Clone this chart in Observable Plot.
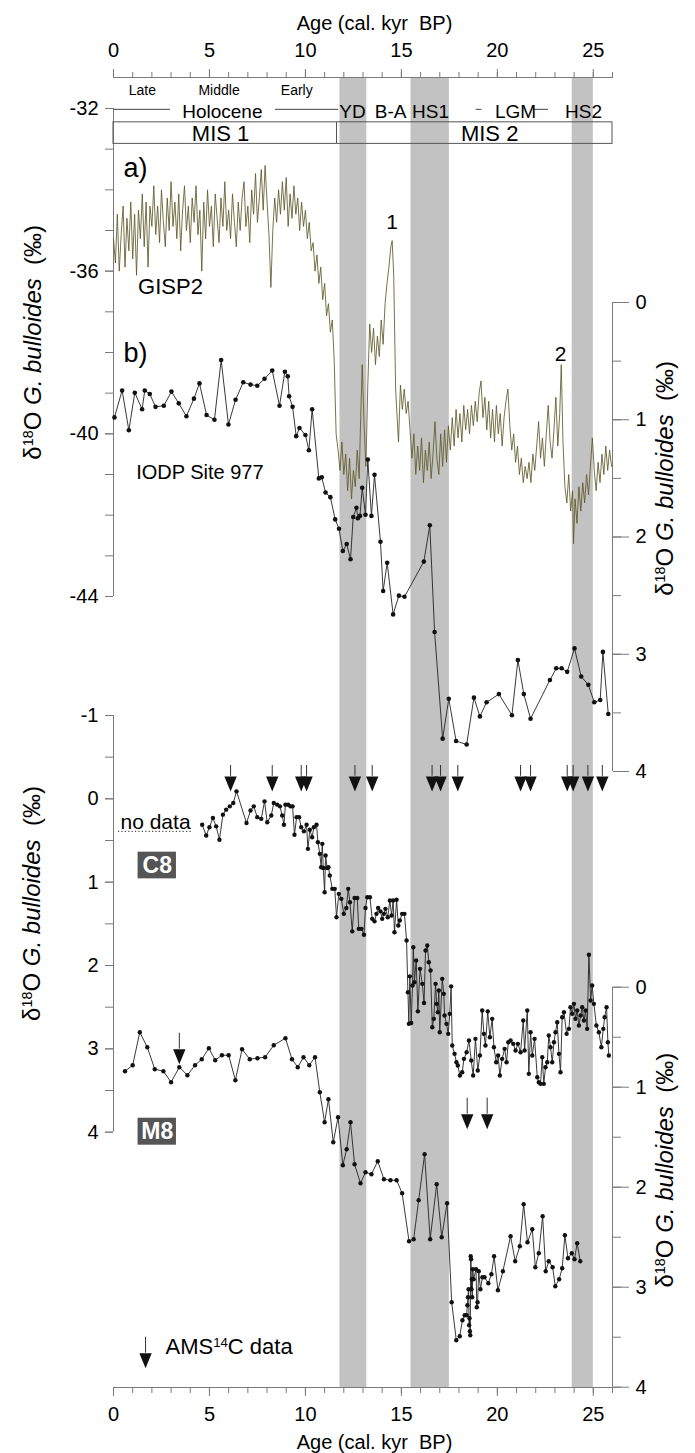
<!DOCTYPE html>
<html><head><meta charset="utf-8">
<script src="https://cdn.jsdelivr.net/npm/d3@7"></script>
<script src="https://cdn.jsdelivr.net/npm/@observablehq/plot@0.6"></script>
<style>
body{margin:0;background:#fff;}
#chart{position:relative;width:695px;height:1453px;}
#chart svg{position:absolute;left:0;top:0;background:transparent;}
</style></head><body><div id="chart"></div>
<script>
// ---------------- DATA ----------------
const xMajor = [0,5,10,15,20,25];
const xMinor = [0,1,2,3,4,5,6,7,8,9,10,11,12,13,14,15,16,17,18,19,20,21,22,23,24,25,26];
const bands = [{start:11.8,end:13.2},{start:15.5,end:17.5},{start:23.9,end:25.0}];
const gispTicks = [-32,-36,-40,-44];
const gispMinor = [-32,-33,-34,-35,-36,-37,-38,-39,-40,-41,-42,-43,-44];
const iodpTicks = [0,1,2,3,4];
const halfTicks04 = [0,0.5,1,1.5,2,2.5,3,3.5,4];
const c8Ticks = [-1,0,1,2,3,4];
const c8Minor = [-1,-0.5,0,0.5,1,1.5,2,2.5,3,3.5,4];
const eraLabels = [{label:"Late",age:1.5},{label:"Middle",age:5.5},{label:"Early",age:9.55}];
const stageLabels = [{label:"Holocene",age:5.67},{label:"YD",age:12.45},{label:"B-A",age:14.44},{label:"HS1",age:16.52},{label:"LGM",age:20.95},{label:"HS2",age:24.49}];
const stageLines = [{a:0,b:2.97},{a:8.44,b:11.73},{a:18.9,b:19.2},{a:21.9,b:22.67}];
const misLabels = [{label:"MIS 1",age:5.58},{label:"MIS 2",age:19.6}];
const misBoundary = [11.62];

const gisp2 = [[0,-35.2],[0.1,-35.8],[0.2,-34.6],[0.3,-36.0],[0.4,-35.1],[0.5,-34.4],[0.6,-35.9],[0.7,-34.7],[0.8,-35.5],[0.9,-34.3],[1.0,-35.7],[1.1,-34.6],[1.2,-36.1],[1.3,-34.5],[1.4,-35.2],[1.5,-34.1],[1.6,-35.4],[1.7,-34.3],[1.8,-35.9],[1.9,-34.4],[2.0,-34.9],[2.1,-33.9],[2.2,-35.1],[2.3,-34.4],[2.4,-35.3],[2.5,-34.0],[2.6,-34.8],[2.7,-35.4],[2.8,-34.2],[2.9,-35.0],[3.0,-33.8],[3.1,-34.9],[3.2,-34.3],[3.3,-35.2],[3.4,-34.1],[3.5,-35.5],[3.6,-34.5],[3.7,-33.9],[3.8,-35.0],[3.9,-34.4],[4.0,-35.3],[4.1,-34.2],[4.2,-34.8],[4.3,-33.9],[4.4,-35.1],[4.5,-34.5],[4.6,-36.0],[4.7,-34.3],[4.8,-35.2],[4.9,-34.0],[5.0,-34.9],[5.1,-34.4],[5.2,-35.4],[5.3,-34.1],[5.4,-34.7],[5.5,-35.3],[5.6,-34.2],[5.7,-34.9],[5.8,-33.8],[5.9,-35.0],[6.0,-34.5],[6.1,-35.2],[6.2,-34.1],[6.3,-34.8],[6.4,-35.4],[6.5,-34.3],[6.6,-35.0],[6.7,-34.2],[6.8,-33.8],[6.9,-34.9],[7.0,-34.4],[7.1,-35.3],[7.2,-34.0],[7.3,-34.6],[7.4,-33.6],[7.5,-34.8],[7.6,-34.2],[7.7,-33.5],[7.8,-34.5],[7.9,-33.4],[8.0,-34.3],[8.1,-35.1],[8.2,-36.4],[8.3,-35.0],[8.4,-34.2],[8.5,-34.8],[8.6,-34.0],[8.7,-34.6],[8.8,-33.8],[8.9,-34.5],[9.0,-33.7],[9.1,-34.9],[9.2,-34.1],[9.3,-34.7],[9.4,-33.9],[9.5,-34.6],[9.6,-34.2],[9.7,-35.0],[9.8,-34.3],[9.9,-34.9],[10.0,-34.5],[10.1,-35.2],[10.2,-34.8],[10.3,-35.5],[10.4,-35.3],[10.5,-36.0],[10.6,-35.6],[10.7,-36.3],[10.8,-35.9],[10.9,-36.7],[11.0,-36.3],[11.1,-37.1],[11.2,-36.8],[11.3,-37.5],[11.4,-37.2],[11.5,-38.2],
[11.6,-40.0],[11.7,-40.4],[11.8,-40.9],[11.9,-40.2],[12.0,-41.0],[12.1,-40.5],[12.2,-41.4],[12.3,-40.6],[12.4,-41.6],[12.5,-40.9],[12.6,-41.3],[12.7,-40.4],[12.8,-41.1],[12.88,-39.6],[12.96,-38.3],[13.05,-39.7],[13.15,-40.8],[13.25,-38.8],[13.35,-37.3],[13.45,-38.0],[13.55,-37.4],[13.65,-38.3],[13.75,-37.6],[13.85,-38.1],[13.95,-37.2],[14.05,-37.8],[14.15,-36.8],[14.25,-36.3],[14.35,-35.9],[14.45,-35.4],[14.52,-35.25],[14.6,-36.1],[14.7,-38.9],[14.78,-39.6],[14.85,-40.2],[14.95,-38.8],[15.05,-39.4],[15.15,-38.9],[15.25,-39.5],[15.35,-39.2],[15.45,-39.9],[15.55,-40.6],[15.65,-40.0],[15.75,-41.0],[15.85,-40.3],[15.95,-40.9],[16.05,-40.1],[16.15,-41.2],[16.25,-40.4],[16.35,-40.9],[16.45,-40.2],[16.55,-41.1],[16.65,-40.5],[16.75,-39.7],[16.85,-40.6],[16.95,-41.0],[17.05,-40.0],[17.15,-40.8],[17.25,-39.9],[17.35,-40.7],[17.45,-39.8],[17.55,-40.4],[17.65,-39.6],[17.75,-40.3],[17.85,-39.4],[17.95,-40.1],[18.05,-39.5],[18.15,-40.2],[18.25,-39.3],[18.35,-39.9],[18.45,-39.4],[18.55,-40.0],[18.65,-39.3],[18.75,-39.8],[18.85,-39.2],[18.95,-39.7],[19.05,-39.0],[19.15,-38.7],[19.25,-39.6],[19.35,-39.1],[19.45,-39.9],[19.55,-39.2],[19.65,-40.1],[19.75,-39.4],[19.85,-40.2],[19.95,-39.3],[20.05,-40.0],[20.15,-39.5],[20.25,-40.3],[20.35,-39.6],[20.45,-39.2],[20.55,-38.9],[20.65,-39.8],[20.75,-40.4],[20.85,-40.0],[20.95,-40.7],[21.05,-40.3],[21.15,-41.0],[21.25,-40.6],[21.35,-41.2],[21.45,-40.8],[21.55,-41.1],[21.65,-40.7],[21.75,-41.2],[21.85,-40.5],[21.95,-40.9],[22.05,-40.3],[22.15,-39.7],[22.25,-40.6],[22.35,-40.1],[22.45,-40.8],[22.55,-40.0],[22.65,-39.3],[22.75,-40.2],[22.85,-40.6],[22.95,-39.9],[23.05,-39.1],[23.15,-40.3],[23.25,-39.5],[23.33,-38.3],[23.42,-40.2],[23.52,-41.3],[23.62,-41.7],[23.72,-41.0],[23.82,-41.9],[23.92,-41.4],[23.97,-42.7],[24.05,-41.6],[24.15,-42.2],[24.25,-41.3],[24.35,-41.9],[24.45,-41.2],[24.55,-41.7],[24.65,-41.0],[24.75,-41.5],[24.85,-40.8],[24.95,-40.1],[25.05,-40.9],[25.15,-41.4],[25.25,-40.7],[25.35,-41.2],[25.45,-40.5],[25.55,-41.0],[25.65,-40.3],[25.75,-40.9],[25.85,-40.4],[25.95,-40.8]];

const iodp977 = [[0.05,0.98],[0.45,0.75],[0.80,1.09],[1.11,0.77],[1.49,0.91],[1.63,0.75],[1.89,0.78],[2.19,0.89],[2.62,0.88],[3.02,0.76],[3.40,0.86],[3.80,0.97],[4.19,0.82],[4.48,0.69],[4.85,0.96],[5.26,1.00],[5.61,0.49],[5.99,1.04],[6.36,0.83],[6.76,0.68],[7.14,0.70],[7.49,0.71],[7.87,0.65],[8.27,0.58],[8.65,0.88],[8.93,0.59],[9.08,0.63],[9.15,0.80],[9.33,0.89],[9.52,1.14],[9.69,1.07],[10.00,1.13],[10.18,1.26],[10.35,0.91],[10.70,1.50],[10.85,1.49],[11.05,1.62],[11.30,1.66],[11.55,1.85],[11.75,1.93],[11.95,2.12],[12.15,2.06],[12.35,2.19],[12.49,1.83],[12.66,1.75],[12.73,1.84],[12.84,1.82],[12.96,1.58],[13.13,1.81],[13.25,1.34],[13.44,1.82],[13.60,1.47],[13.91,2.04],[14.05,2.46],[14.26,2.22],[14.57,2.66],[14.87,2.50],[15.16,2.51],[16.17,2.21],[16.48,1.90],[16.73,2.81],[17.15,3.72],[17.47,3.38],[17.85,3.74],[18.40,3.77],[18.78,3.37],[19.09,3.53],[19.44,3.41],[20.08,3.34],[20.76,3.52],[21.07,3.05],[21.38,3.34],[21.73,3.55],[22.74,3.22],[23.07,3.12],[23.35,3.12],[23.64,3.15],[24.02,2.95],[24.37,3.19],[24.74,3.26],[25.05,3.41],[25.36,3.39],[25.50,2.98],[25.78,3.51]];

const c8 = [[4.62,0.31],[4.83,0.44],[5.00,0.34],[5.18,0.23],[5.35,0.33],[5.52,0.49],[5.70,0.19],[5.87,0.13],[6.06,0.09],[6.24,0.05],[6.41,-0.09],[6.93,0.29],[7.14,0.14],[7.31,0.09],[7.49,0.22],[7.70,0.24],[7.87,0.03],[8.01,0.28],[8.22,0.20],[8.35,0.05],[8.53,0.07],[8.67,0.09],[8.79,0.20],[8.88,0.31],[8.96,0.07],[9.10,0.07],[9.22,0.09],[9.33,0.09],[9.43,0.43],[9.54,0.22],[9.67,0.22],[9.78,0.34],[9.92,0.39],[10.06,0.31],[10.13,0.60],[10.23,0.37],[10.35,0.46],[10.44,0.34],[10.58,0.31],[10.65,0.52],[10.75,0.66],[10.82,0.82],[10.88,0.54],[10.93,0.83],[11.00,1.12],[11.05,0.68],[11.13,0.83],[11.20,0.82],[11.27,0.92],[11.40,1.08],[11.53,1.08],[11.62,1.42],[11.74,1.14],[11.87,1.20],[12.00,1.38],[12.13,1.31],[12.23,1.08],[12.32,1.24],[12.44,1.59],[12.56,1.19],[12.70,1.19],[12.78,1.56],[12.92,1.56],[13.05,1.63],[13.13,1.31],[13.22,1.18],[13.36,1.18],[13.48,1.44],[13.60,1.47],[13.70,1.38],[13.79,1.31],[13.91,1.35],[14.00,1.44],[14.09,1.38],[14.17,1.32],[14.29,1.42],[14.40,1.22],[14.49,1.40],[14.57,1.22],[14.64,1.60],[14.75,1.21],[14.84,1.52],[14.92,1.46],[15.04,1.38],[15.16,1.38],[15.27,1.70],[15.34,2.32],[15.39,2.70],[15.44,2.13],[15.51,2.69],[15.58,2.24],[15.62,1.78],[15.68,2.20],[15.77,1.94],[15.86,2.55],[15.97,2.04],[16.09,2.22],[16.18,2.45],[16.26,1.82],[16.35,1.76],[16.43,1.96],[16.52,2.06],[16.61,2.74],[16.69,2.64],[16.78,2.22],[16.84,2.46],[16.90,2.56],[16.95,2.30],[17.00,2.80],[17.13,2.16],[17.21,2.34],[17.25,2.60],[17.35,2.70],[17.44,2.82],[17.52,2.58],[17.59,2.25],[17.65,2.96],[17.77,3.06],[17.87,3.16],[17.94,3.20],[18.05,3.32],[18.17,3.28],[18.26,3.12],[18.40,3.04],[18.52,2.90],[18.64,3.14],[18.74,3.32],[18.86,2.88],[18.98,3.26],[19.09,3.08],[19.21,2.54],[19.30,2.82],[19.38,2.96],[19.50,2.55],[19.61,2.86],[19.73,2.64],[19.82,2.98],[19.94,3.16],[20.04,3.08],[20.13,3.32],[20.25,3.12],[20.38,3.00],[20.48,3.16],[20.57,2.92],[20.69,2.90],[20.83,2.94],[20.95,3.02],[21.07,2.94],[21.21,3.04],[21.35,2.66],[21.42,3.02],[21.56,2.54],[21.64,3.30],[21.73,2.80],[21.82,3.08],[21.94,2.88],[22.08,3.34],[22.16,3.40],[22.25,3.42],[22.34,3.10],[22.42,3.42],[22.51,3.22],[22.60,3.16],[22.68,2.84],[22.77,2.98],[22.86,3.16],[22.95,2.92],[23.03,2.80],[23.12,2.68],[23.21,3.06],[23.29,3.28],[23.38,2.62],[23.47,2.56],[23.61,2.82],[23.73,2.76],[23.81,2.50],[23.90,2.58],[23.99,2.46],[24.07,2.64],[24.16,2.54],[24.25,2.72],[24.34,2.60],[24.42,2.50],[24.51,2.66],[24.60,2.54],[24.68,2.76],[24.77,1.87],[24.86,2.42],[24.94,2.24],[25.03,2.46],[25.16,2.72],[25.29,2.80],[25.42,2.98],[25.52,2.76],[25.59,2.62],[25.69,2.50],[25.76,2.92],[25.81,3.08]];

const m8 = [[0.6,0.84],[1.0,0.78],[1.37,0.45],[1.76,0.60],[2.15,0.82],[2.6,0.84],[3.0,0.95],[3.43,0.80],[3.85,0.88],[4.25,0.78],[4.6,0.72],[4.97,0.61],[5.3,0.73],[5.65,0.68],[6.0,0.68],[6.35,0.93],[6.7,0.62],[7.1,0.72],[7.5,0.71],[7.9,0.70],[8.35,0.58],[8.96,0.51],[9.3,0.72],[9.6,0.80],[9.9,0.70],[10.2,0.78],[10.5,0.70],[10.75,1.05],[11.0,1.35],[11.2,1.12],[11.45,1.55],[11.7,1.30],[11.95,1.78],[12.15,1.62],[12.35,1.35],[12.56,1.77],[12.87,1.96],[13.13,1.85],[13.44,1.87],[13.77,1.74],[14.09,1.92],[14.43,1.93],[14.75,1.93],[15.04,2.06],[15.40,2.54],[15.64,2.52],[15.90,2.13],[16.21,1.67],[16.50,2.52],[16.84,1.97],[17.10,2.50],[17.38,2.16],[17.62,3.15],[17.86,3.53],[18.04,3.49],[18.18,3.33],[18.30,3.28],[18.40,3.28],[18.44,3.18],[18.47,3.10],[18.50,3.02],[18.53,3.38],[18.55,3.31],[18.57,3.44],[18.59,3.48],[18.61,2.69],[18.63,2.72],[18.65,3.02],[18.67,2.92],[18.69,3.10],[18.72,2.82],[18.76,2.92],[18.89,2.82],[18.93,3.20],[18.97,3.15],[19.03,2.84],[19.12,3.02],[19.22,2.90],[19.33,2.90],[19.53,2.96],[19.69,2.87],[19.83,2.69],[20.03,3.03],[20.29,2.84],[20.69,2.49],[20.93,2.74],[21.17,2.59],[21.37,2.17],[21.57,2.55],[21.82,2.42],[21.98,2.80],[22.16,2.66],[22.36,2.29],[22.52,2.84],[22.68,2.74],[22.88,2.80],[23.02,2.99],[23.22,2.92],[23.38,2.81],[23.52,2.48],[23.68,2.71],[23.88,2.66],[24.02,2.72],[24.16,2.56],[24.32,2.74]];

const c8Ams = [6.1,8.27,9.78,10.06,12.58,13.48,16.6,17.04,17.94,21.21,21.73,23.64,23.95,24.72,25.47];
const m8AmsUpper = [3.43];
const m8AmsLower = [18.43,19.47];
const legendArrow = [1.67];

const xTitle = "Age (cal. kyr  BP)";
const yTitle = "δ18O G. bulloides  (‰)";

// ---------------- RENDER ----------------
const FONT = '"Liberation Sans", Arial, Helvetica, sans-serif';
const W = 695, H = 1453, ML = 113, MR = 83;
const AX = "#7a7a7a";
const toRows = arr => arr.map(([age, v]) => ({age, v}));
const style = {background:"transparent", fontFamily:FONT, fontSize:"20px", color:"#000"};
const downTriangle = {draw(ctx, size){ const r = Math.sqrt(size/Math.PI); ctx.moveTo(-r*0.95,-r); ctx.lineTo(r*0.95,-r); ctx.lineTo(0,r*1.3); ctx.closePath(); }};
const k = v => () => v;
const fmt = d => String(d);

const base = Plot.plot({
  width:W, height:H, marginLeft:ML, marginRight:MR, marginTop:77, marginBottom:H-1387, style,
  x:{domain:[0,26]}, y:{domain:[0,1], axis:null},
  marks:[
    Plot.rectX(bands,{x1:"start", x2:"end", fill:"#c2c2c2"}),
    Plot.ruleY([0,1],{stroke:AX}),
    Plot.axisX({anchor:"top", ticks:xMinor, tickSize:6, tickFormat:()=>"", stroke:AX, label:null}),
    Plot.axisX({anchor:"top", ticks:xMajor, tickSize:9, tickPadding:12, fontSize:20, tickFormat:fmt, stroke:AX, label:null}),
    Plot.axisX({anchor:"bottom", ticks:xMinor, tickSize:6, tickFormat:()=>"", stroke:AX, label:null}),
    Plot.axisX({anchor:"bottom", ticks:xMajor, tickSize:9, tickPadding:10, fontSize:20, tickFormat:fmt, stroke:AX, label:null}),
    Plot.text([xTitle],{x:k(13.6), frameAnchor:"top", dy:-54, lineAnchor:"middle", text:d=>d, fontSize:20}),
    Plot.text([xTitle],{x:k(13.6), frameAnchor:"bottom", dy:55, lineAnchor:"middle", text:d=>d, fontSize:20})
  ]
});

const gispPlot = Plot.plot({
  width:W, height:H, marginLeft:ML, marginRight:MR, marginTop:108, marginBottom:H-596, style,
  x:{domain:[0,26], axis:null}, y:{domain:[-44,-32]},
  marks:[
    Plot.ruleX([0],{y1:-44, y2:-32, stroke:AX}),
    Plot.axisY({anchor:"left", ticks:gispMinor, tickSize:8, tickFormat:()=>"", stroke:AX, label:null}),
    Plot.axisY({anchor:"left", ticks:gispTicks, tickSize:8, tickPadding:7, fontSize:20, tickFormat:fmt, stroke:AX, label:null}),
    Plot.text(eraLabels,{x:"age", y:k(-31.56), text:"label", fontSize:14}),
    Plot.ruleY(stageLines,{x1:"a", x2:"b", y:k(-32.02), stroke:"#444"}),
    Plot.text(stageLabels,{x:"age", y:k(-32.08), text:"label", fontSize:19}),
    Plot.rect([0],{x1:k(0), x2:k(26), y1:k(-32.34), y2:k(-32.87), fill:"none", stroke:"#555"}),
    Plot.ruleX(misBoundary,{y1:-32.34, y2:-32.87, stroke:"#555"}),
    Plot.text(misLabels,{x:"age", y:k(-32.62), text:"label", fontSize:22}),
    Plot.line(toRows(gisp2),{x:"age", y:"v", stroke:"#5f5a2b", strokeWidth:0.85}),
    Plot.text(["a)"],{x:k(1.15), y:k(-33.48), text:d=>d, fontSize:27}),
    Plot.text(["GISP2"],{x:k(2.97), y:k(-36.4), text:d=>d, fontSize:22}),
    Plot.text(["1"],{x:k(14.52), y:k(-34.8), text:d=>d, fontSize:21}),
    Plot.text(["2"],{x:k(23.3), y:k(-38.05), text:d=>d, fontSize:21}),
    Plot.text([yTitle],{frameAnchor:"left", y:k(-37.75), dx:-80, rotate:-90, textAnchor:"middle", lineAnchor:"middle", text:d=>d, fontSize:24})
  ]
});

const iodpPlot = Plot.plot({
  width:W, height:H, marginLeft:ML, marginRight:MR, marginTop:302, marginBottom:H-771, style,
  x:{domain:[0,26], axis:null}, y:{domain:[0,4], reverse:true},
  marks:[
    Plot.ruleX([26],{y1:0, y2:4, stroke:AX}),
    Plot.axisY({anchor:"right", ticks:halfTicks04, tickSize:8, tickFormat:()=>"", stroke:AX, label:null}),
    Plot.axisY({anchor:"right", ticks:iodpTicks, tickSize:16, tickPadding:7, fontSize:20, tickFormat:fmt, stroke:AX, label:null}),
    Plot.line(toRows(iodp977),{x:"age", y:"v", stroke:"#222", strokeWidth:0.9}),
    Plot.dot(toRows(iodp977),{x:"age", y:"v", r:2.3, fill:"#111"}),
    Plot.text(["b)"],{x:k(1.15), y:k(0.43), text:d=>d, fontSize:27}),
    Plot.text(["IODP Site 977"],{x:k(4.5), y:k(1.45), text:d=>d, fontSize:20}),
    Plot.text([yTitle],{frameAnchor:"right", y:k(1.5), dx:53, rotate:-90, textAnchor:"middle", lineAnchor:"middle", text:d=>d, fontSize:24})
  ]
});

const c8Plot = Plot.plot({
  width:W, height:H, marginLeft:ML, marginRight:MR, marginTop:715, marginBottom:H-1131.7, style,
  x:{domain:[0,26], axis:null}, y:{domain:[-1,4], reverse:true},
  marks:[
    Plot.ruleX([0],{y1:-1, y2:4, stroke:AX}),
    Plot.axisY({anchor:"left", ticks:c8Minor, tickSize:8, tickFormat:()=>"", stroke:AX, label:null}),
    Plot.axisY({anchor:"left", ticks:c8Ticks, tickSize:8, tickPadding:7, fontSize:20, tickFormat:fmt, stroke:AX, label:null}),
    Plot.ruleY([0.39],{x1:k(0.26), x2:k(4.1), stroke:"#222", strokeDasharray:"1.2,2.2"}),
    Plot.text(["no data"],{x:k(2.19), y:k(0.284), text:d=>d, fontSize:21}),
    Plot.rect([0],{x1:k(1.28), x2:k(3.28), y1:k(0.64), y2:k(0.96), fill:"#555"}),
    Plot.text(["C8"],{x:k(2.28), y:k(0.80), text:d=>d, fontSize:23, fontWeight:"bold", fill:"white"}),
    Plot.line(toRows(c8),{x:"age", y:"v", stroke:"#222", strokeWidth:0.9}),
    Plot.dot(toRows(c8),{x:"age", y:"v", r:2.2, fill:"#111"}),
    Plot.ruleX(c8Ams,{x:d=>d, y1:k(-0.40), y2:k(-0.27), stroke:"#333"}),
    Plot.dot(c8Ams,{x:d=>d, y:k(-0.19), symbol:downTriangle, r:6.5, fill:"#111", stroke:"none"}),
    Plot.text([yTitle],{frameAnchor:"left", y:k(1.256), dx:-81, rotate:-90, textAnchor:"middle", lineAnchor:"middle", text:d=>d, fontSize:24})
  ]
});

const m8Plot = Plot.plot({
  width:W, height:H, marginLeft:ML, marginRight:MR, marginTop:986.7, marginBottom:H-1386.7, style,
  x:{domain:[0,26], axis:null}, y:{domain:[0,4], reverse:true},
  marks:[
    Plot.ruleX([26],{y1:0, y2:4, stroke:AX}),
    Plot.axisY({anchor:"right", ticks:halfTicks04, tickSize:8, tickFormat:()=>"", stroke:AX, label:null}),
    Plot.axisY({anchor:"right", ticks:iodpTicks, tickSize:16, tickPadding:7, fontSize:20, tickFormat:fmt, stroke:AX, label:null}),
    Plot.rect([0],{x1:k(1.28), x2:k(3.28), y1:k(1.31), y2:k(1.58), fill:"#555"}),
    Plot.text(["M8"],{x:k(2.28), y:k(1.445), text:d=>d, fontSize:23, fontWeight:"bold", fill:"white"}),
    Plot.line(toRows(m8),{x:"age", y:"v", stroke:"#222", strokeWidth:0.9}),
    Plot.dot(toRows(m8),{x:"age", y:"v", r:2.2, fill:"#111"}),
    Plot.ruleX(m8AmsUpper,{x:d=>d, y1:k(0.46), y2:k(0.62), stroke:"#333"}),
    Plot.dot(m8AmsUpper,{x:d=>d, y:k(0.685), symbol:downTriangle, r:6.5, fill:"#111", stroke:"none"}),
    Plot.ruleX(m8AmsLower,{x:d=>d, y1:k(1.11), y2:k(1.27), stroke:"#333"}),
    Plot.dot(m8AmsLower,{x:d=>d, y:k(1.335), symbol:downTriangle, r:6.5, fill:"#111", stroke:"none"}),
    Plot.ruleX(legendArrow,{x:d=>d, y1:k(3.50), y2:k(3.66), stroke:"#333"}),
    Plot.dot(legendArrow,{x:d=>d, y:k(3.725), symbol:downTriangle, r:6.5, fill:"#111", stroke:"none"}),
    Plot.text(["AMS14C data"],{x:k(2.71), y:k(3.60), text:d=>d, textAnchor:"start", fontSize:22}),
    Plot.text([yTitle],{frameAnchor:"right", y:k(1.83), dx:53, rotate:-90, textAnchor:"middle", lineAnchor:"middle", text:d=>d, fontSize:24})
  ]
});

const root = document.getElementById("chart");
[base, gispPlot, iodpPlot, c8Plot, m8Plot].forEach(p => root.appendChild(p));

// rich text: superscripts and italics
root.querySelectorAll("text").forEach(t => {
  const s = t.textContent;
  if (s === yTitle) {
    t.innerHTML = 'δ<tspan baseline-shift="super" font-size="60%">18</tspan>O <tspan font-style="italic">G. bulloides</tspan>\u00a0\u00a0(‰)';
  } else if (s === "AMS14C data") {
    t.innerHTML = 'AMS<tspan baseline-shift="super" font-size="60%">14</tspan>C data';
  }
});
</script></body></html>
